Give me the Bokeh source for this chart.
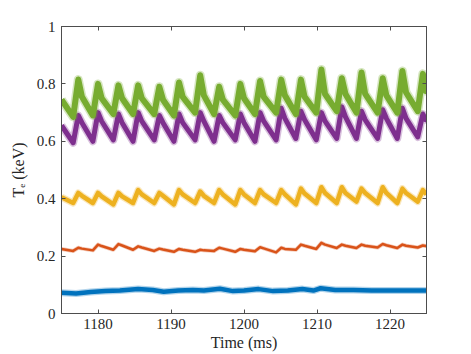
from bokeh.plotting import figure
from bokeh.models import (Range1d, FixedTicker, LinearAxis, CustomJSTickFormatter,
                          ColumnDataSource)
from bokeh.embed import file_html
from bokeh.resources import INLINE

# ---------------- data ----------------
x_ticks = [1180, 1190, 1200, 1210, 1220]
y_ticks = [0, 0.2, 0.4, 0.6, 0.8, 1]

t_start, t_end = 1175.0, 1225.0

# sawtooth: minimum before each crash, crash peak, fast-drop shoulder after it
trough_t = [1176.6, 1179.3, 1182.1, 1184.8, 1187.7, 1190.4, 1193.3, 1195.9, 1198.8,
            1201.5, 1204.4, 1207.1, 1209.9, 1212.7, 1215.4, 1218.3, 1221.0, 1223.8]
peak_t = [1177.3, 1180.0, 1182.8, 1185.5, 1188.4, 1191.1, 1194.0, 1196.6, 1199.5,
          1202.2, 1205.1, 1207.8, 1210.6, 1213.4, 1216.1, 1219.0, 1221.7, 1224.5]
shoulder_t = [1177.8, 1180.5, 1183.3, 1186.0, 1188.9, 1191.6, 1194.5, 1197.1, 1200.0,
              1202.7, 1205.6, 1208.3, 1211.1, 1213.9, 1216.6, 1219.5, 1222.2, 1224.9]

green_start, green_end = 0.745, 0.79
green_trough = [0.685, 0.69, 0.695, 0.695, 0.695, 0.69, 0.70, 0.695, 0.69,
                0.695, 0.70, 0.695, 0.70, 0.705, 0.70, 0.70, 0.70, 0.705]
green_peak = [0.815, 0.80, 0.795, 0.795, 0.79, 0.805, 0.83, 0.79, 0.80,
              0.81, 0.815, 0.815, 0.85, 0.82, 0.84, 0.82, 0.845, 0.835]
green_shoulder = [0.755, 0.75, 0.75, 0.75, 0.745, 0.755, 0.76, 0.745, 0.75,
                  0.755, 0.76, 0.755, 0.765, 0.765, 0.765, 0.76, 0.77, 0.775]

purple_start, purple_end = 0.655, 0.675
purple_trough = [0.595, 0.60, 0.605, 0.60, 0.605, 0.60, 0.605, 0.60, 0.605,
                 0.60, 0.605, 0.61, 0.605, 0.61, 0.61, 0.61, 0.61, 0.615]
purple_peak = [0.69, 0.70, 0.695, 0.70, 0.69, 0.695, 0.70, 0.69, 0.695,
               0.70, 0.715, 0.705, 0.70, 0.72, 0.705, 0.71, 0.715, 0.695]
purple_shoulder = [0.665, 0.67, 0.665, 0.67, 0.665, 0.665, 0.67, 0.665, 0.665,
                   0.67, 0.68, 0.675, 0.67, 0.685, 0.675, 0.68, 0.68, 0.675]

yellow_start, yellow_end = 0.405, 0.415
yellow_trough = [0.385, 0.385, 0.38, 0.385, 0.385, 0.38, 0.385, 0.385, 0.38,
                 0.385, 0.385, 0.38, 0.385, 0.385, 0.39, 0.385, 0.385, 0.39]
yellow_peak = [0.42, 0.42, 0.42, 0.43, 0.42, 0.43, 0.425, 0.43, 0.43,
               0.43, 0.43, 0.435, 0.44, 0.44, 0.435, 0.44, 0.435, 0.43]
yellow_shoulder = [0.41, 0.408, 0.408, 0.415, 0.41, 0.415, 0.41, 0.415, 0.415,
                   0.415, 0.415, 0.418, 0.42, 0.42, 0.42, 0.42, 0.42, 0.418]

orange_start, orange_end = 0.225, 0.235
orange_trough = [0.218, 0.22, 0.222, 0.222, 0.218, 0.215, 0.215, 0.218, 0.215,
                 0.217, 0.213, 0.222, 0.225, 0.228, 0.228, 0.23, 0.228, 0.23]
orange_peak = [0.229, 0.24, 0.242, 0.234, 0.226, 0.225, 0.222, 0.229, 0.225,
               0.231, 0.229, 0.24, 0.246, 0.24, 0.24, 0.242, 0.24, 0.237]
orange_shoulder = [0.226, 0.235, 0.237, 0.23, 0.223, 0.222, 0.22, 0.226, 0.222,
                   0.227, 0.225, 0.236, 0.24, 0.236, 0.236, 0.238, 0.236, 0.235]

blue_t = [1175, 1177, 1179, 1181, 1183, 1185.5, 1187.5, 1189, 1191, 1193, 1194.5,
          1196.7, 1198.5, 1200, 1202, 1204, 1206, 1208, 1209.5, 1210.5, 1212.5,
          1215, 1217.5, 1220, 1222.5, 1225]
blue_v = [0.072, 0.070, 0.075, 0.078, 0.080, 0.085, 0.082, 0.076, 0.080, 0.082, 0.080,
          0.086, 0.078, 0.080, 0.085, 0.078, 0.080, 0.085, 0.080, 0.088, 0.082,
          0.082, 0.080, 0.080, 0.080, 0.080]

x_label = "Time (ms)"
y_label = "T\u2091 (keV)"

colors = {"blue": "#0072BD", "orange": "#D95319", "yellow": "#EDB120",
          "purple": "#7E2F8E", "green": "#77AC30"}
axis_color = "#4d4d4d"
text_color = "#262626"
FONT = "Liberation Serif"


def saw(start, end, troughs, peaks, shoulders):
    t = [t_start]
    v = [start]
    for tt, tv, pt, pv, st, sv in zip(trough_t, troughs, peak_t, peaks,
                                      shoulder_t, shoulders):
        t += [tt, pt, st]
        v += [tv, pv, sv]
    t.append(t_end)
    v.append(end)
    return ColumnDataSource(dict(t=t, v=v))


series = [
    ("blue", ColumnDataSource(dict(t=blue_t, v=blue_v)), 7, 4.5),
    ("orange", saw(orange_start, orange_end, orange_trough, orange_peak,
                   orange_shoulder), 4, 2.5),
    ("yellow", saw(yellow_start, yellow_end, yellow_trough, yellow_peak,
                   yellow_shoulder), 7, 4.5),
    ("purple", saw(purple_start, purple_end, purple_trough, purple_peak,
                   purple_shoulder), 8, 5),
    ("green", saw(green_start, green_end, green_trough, green_peak,
                  green_shoulder), 9, 6),
]

p = figure(width=471, height=354, output_backend="svg", toolbar_location=None,
           x_range=Range1d(1175, 1225), y_range=Range1d(0, 1),
           min_border_left=61, min_border_right=45, min_border_top=26,
           min_border_bottom=41)
p.background_fill_color = "white"
p.border_fill_color = "white"
p.outline_line_color = axis_color
p.xgrid.visible = False
p.ygrid.visible = False

for name, src, w_out, w_in in series:
    p.line("t", "v", source=src, line_color=colors[name], line_width=w_out,
           line_alpha=0.3, line_join="round")
    p.line("t", "v", source=src, line_color=colors[name], line_width=w_in,
           line_alpha=1.0, line_join="round")

fmt = CustomJSTickFormatter(code="return String(Math.round(tick*100)/100);")

for ax, ticks, lab in ((p.xaxis[0], x_ticks, x_label), (p.yaxis[0], y_ticks, y_label)):
    ax.ticker = FixedTicker(ticks=ticks)
    ax.formatter = fmt
    ax.major_tick_in = 4
    ax.major_tick_out = 0
    ax.minor_tick_in = 0
    ax.minor_tick_out = 0
    ax.axis_line_color = axis_color
    ax.major_tick_line_color = axis_color
    ax.major_label_text_font = FONT
    ax.major_label_text_font_size = "15px"
    ax.major_label_text_color = text_color
    ax.axis_label = lab
    ax.axis_label_text_font = FONT
    ax.axis_label_text_font_size = "16px"
    ax.axis_label_text_font_style = "normal"
    ax.axis_label_text_color = text_color

p.xaxis[0].major_label_standoff = 5
p.xaxis[0].axis_label_standoff = 2
p.yaxis[0].major_label_standoff = 6
p.yaxis[0].axis_label_standoff = 7

# mirrored inward ticks on top and right (MATLAB box)
for loc, ticks in (("above", x_ticks), ("right", y_ticks)):
    ax = LinearAxis(ticker=FixedTicker(ticks=ticks), major_tick_in=4, major_tick_out=0,
                    minor_tick_in=0, minor_tick_out=0, major_label_standoff=0,
                    major_label_text_font_size="1px", major_label_text_color=None,
                    axis_line_color=axis_color, major_tick_line_color=axis_color)
    p.add_layout(ax, loc)

open("out.html", "w").write(file_html(p, INLINE))
